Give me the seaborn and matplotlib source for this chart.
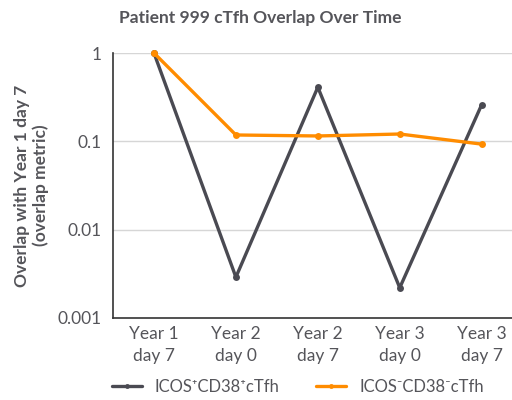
import seaborn as sns
import matplotlib.pyplot as plt
import numpy as np
import pandas as pd

timepoints = ['Year 1\nday 7', 'Year 2\nday 0', 'Year 2\nday 7', 'Year 3\nday 0', 'Year 3\nday 7']
pos_vals = [1.0, 0.0029, 0.41, 0.0022, 0.26]
neg_vals = [1.0, 0.118, 0.115, 0.121, 0.093]
series = ['ICOS\u207aCD38\u207acTfh', 'ICOS\u207bCD38\u207bcTfh']

d = pd.DataFrame({
    'x': list(range(len(timepoints))) * 2,
    'y': pos_vals + neg_vals,
    'series': [series[0]] * len(pos_vals) + [series[1]] * len(neg_vals),
})

sns.set_style('white')
plt.rcParams['font.family'] = ['Lato', 'DejaVu Sans']
txt = '#55555a'

fig = plt.figure(figsize=(5.12, 4), dpi=100)
ax = fig.add_axes([113/512, 1 - 318/400, 1 - 113/512, 265/400])

sns.lineplot(data=d, x='x', y='y', hue='series', palette=['#4a4a52', '#ff8c00'],
             marker='o', markersize=5, markeredgewidth=0, linewidth=2.4,
             ax=ax, clip_on=False, legend=True)

ax.set_yscale('log')
ax.set_ylim(0.001, 1)
ax.set_xlim(-0.5, 4.37)
ax.set_yticks([0.001, 0.01, 0.1, 1])
ax.set_yticklabels(['0.001', '0.01', '0.1', '1'])
ax.minorticks_off()
ax.set_xticks(np.arange(0.5, 4, 1))
ax.set_xticks(range(5), timepoints, minor=True)
for t in ax.get_xticklabels(minor=True):
    t.set_linespacing(1.45)
ax.set_xticklabels([])
ax.tick_params(axis='x', which='major', length=5, width=1, color='#333', direction='out')
ax.tick_params(axis='x', which='minor', length=0, labelsize=12.5, labelcolor=txt, pad=6)
ax.tick_params(axis='y', length=5, width=1, color='#333', direction='out', labelsize=12.5, labelcolor=txt, pad=3)
for yv in [0.01, 0.1, 1]:
    ax.axhline(yv, color='#d6d6d6', lw=1, zorder=0)

for s in ['top', 'right']:
    ax.spines[s].set_visible(False)
for s in ['left', 'bottom']:
    ax.spines[s].set_color('#333')
    ax.spines[s].set_linewidth(1.2)

ax.set_xlabel('')
ax.set_ylabel('Overlap with Year 1 day 7\n(overlap metric)', fontsize=12.5,
              fontweight='bold', color=txt, labelpad=6)
fig.text(260/512, 1 - 18/400, 'Patient 999 cTfh Overlap Over Time', ha='center', va='center',
         fontsize=12.5, fontweight='bold', color=txt)

h, l = ax.get_legend_handles_labels()
ax.get_legend().remove()
fig.legend(h, l, loc='center', bbox_to_anchor=(298/512, 1 - 387/400), ncol=2, frameon=False,
           fontsize=12, labelcolor=txt, handlelength=1.8, columnspacing=2.2, handletextpad=0.8,
           markerscale=0.7)

fig.savefig('out.png', dpi=100)
